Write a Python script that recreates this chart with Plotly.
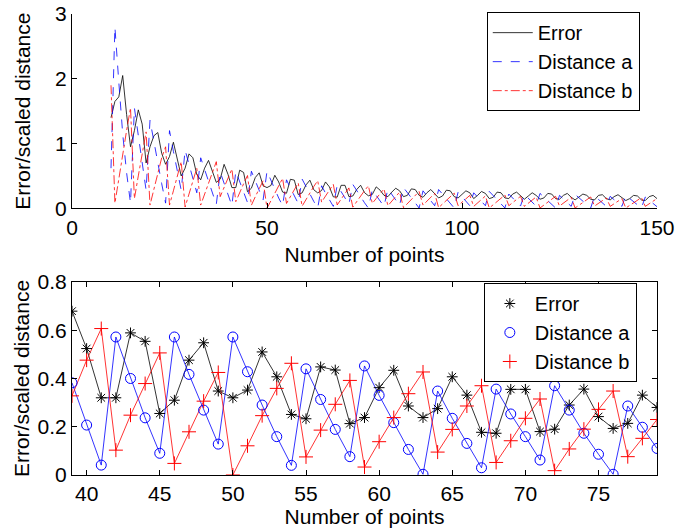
import plotly.graph_objects as go

# Number of points (x) for the full run
n_points = list(range(10, 151))

error = [
    1.4, 1.65, 1.72, 2.05, 1.45, 0.95, 1.2, 1.52, 1.3, 0.7,
    0.95, 1.12, 1.17, 0.85, 0.68, 0.8, 1.02, 0.75, 0.5, 0.62,
    0.84, 0.78, 0.52, 0.44, 0.62, 0.74, 0.56, 0.4, 0.45,
    0.679, 0.524, 0.32, 0.32, 0.589, 0.554, 0.255, 0.31, 0.476, 0.548,
    0.348, 0.32, 0.352, 0.51, 0.407, 0.251, 0.233, 0.448, 0.435, 0.213,
    0.238, 0.362, 0.434, 0.286, 0.238, 0.275, 0.407, 0.331, 0.177, 0.173,
    0.355, 0.355, 0.18, 0.19, 0.29, 0.356, 0.242, 0.193, 0.214, 0.331, 0.28,
    0.2, 0.18, 0.25, 0.31, 0.27, 0.18, 0.2, 0.3, 0.29, 0.2,
    0.17, 0.24, 0.29, 0.23, 0.16, 0.19, 0.28, 0.27, 0.18, 0.16,
    0.22, 0.27, 0.24, 0.15, 0.2, 0.26, 0.23, 0.15, 0.17, 0.25,
    0.24, 0.16, 0.15, 0.22, 0.25, 0.19, 0.14, 0.19, 0.24, 0.2,
    0.14, 0.16, 0.23, 0.22, 0.15, 0.14, 0.2, 0.23, 0.17, 0.13,
    0.17, 0.22, 0.2, 0.14, 0.13, 0.2, 0.21, 0.15, 0.13, 0.18,
    0.21, 0.17, 0.12, 0.15, 0.2, 0.19, 0.13, 0.12, 0.18, 0.2, 0.15,
]

distance_a = [
    0.62, 2.8, 1.95, 1.15, 0.55, 0.08, 1.55, 1.1, 0.68, 0.28,
    1.36, 1.02, 0.7, 0.38, 0.08, 1.2, 0.88, 0.58, 0.28, 0.9,
    0.68, 0.46, 0.24, 0.78, 0.6, 0.42, 0.24, 0.06, 0.56,
    0.382, 0.207, 0.041, 0.572, 0.40, 0.237, 0.09, 0.572, 0.417, 0.269,
    0.128, 0.572, 0.428, 0.29, 0.159, 0.04, 0.44, 0.313, 0.189, 0.076,
    0.452, 0.33, 0.217, 0.106, 0.003, 0.348, 0.235, 0.131, 0.03, 0.356,
    0.253, 0.159, 0.062, 0.37, 0.269, 0.173, 0.086, 0.003, 0.286, 0.198, 0.11,
    0.03, 0.3, 0.215, 0.13, 0.045, 0.32, 0.24, 0.16, 0.08, 0.005,
    0.27, 0.19, 0.115, 0.04, 0.29, 0.215, 0.145, 0.075, 0.005, 0.25,
    0.18, 0.11, 0.04, 0.24, 0.175, 0.105, 0.04, 0.26, 0.195, 0.13,
    0.07, 0.005, 0.22, 0.16, 0.095, 0.035, 0.215, 0.155, 0.095, 0.035,
    0.23, 0.175, 0.115, 0.06, 0.005, 0.2, 0.145, 0.09, 0.03, 0.215,
    0.16, 0.105, 0.055, 0.005, 0.19, 0.135, 0.085, 0.03, 0.185, 0.135,
    0.08, 0.03, 0.2, 0.15, 0.1, 0.05, 0.005, 0.175, 0.125, 0.075, 0.025,
]

distance_b = [
    1.9, 0.08, 0.45, 0.85, 1.2, 1.55, 0.15, 0.5, 0.85, 1.18,
    0.05, 0.3, 0.55, 0.78, 0.95, 0.05, 0.27, 0.5, 0.72, 0.02,
    0.22, 0.42, 0.62, 0.05, 0.22, 0.4, 0.57, 0.72, 0.18,
    0.328, 0.476, 0.607, 0.103, 0.248, 0.379, 0.506, 0.048, 0.179, 0.306,
    0.425, 0.0, 0.121, 0.246, 0.359, 0.463, 0.075, 0.186, 0.293, 0.392,
    0.033, 0.138, 0.238, 0.337, 0.427, 0.095, 0.189, 0.286, 0.37, 0.052,
    0.142, 0.235, 0.315, 0.018, 0.108, 0.19, 0.272, 0.348, 0.076, 0.152, 0.23,
    0.3, 0.04, 0.11, 0.18, 0.25, 0.01, 0.075, 0.14, 0.2, 0.26,
    0.05, 0.11, 0.17, 0.23, 0.01, 0.07, 0.125, 0.18, 0.235, 0.04,
    0.095, 0.15, 0.2, 0.03, 0.085, 0.14, 0.19, 0.005, 0.055, 0.105,
    0.155, 0.205, 0.04, 0.09, 0.14, 0.185, 0.03, 0.08, 0.13, 0.175,
    0.005, 0.05, 0.095, 0.14, 0.185, 0.035, 0.08, 0.125, 0.17, 0.005,
    0.05, 0.09, 0.13, 0.175, 0.035, 0.075, 0.115, 0.16, 0.03, 0.07,
    0.11, 0.15, 0.005, 0.045, 0.085, 0.125, 0.165, 0.03, 0.07, 0.11, 0.15,
]

series_names = ["Error", "Distance a", "Distance b"]
zoom_start, zoom_end = 39, 79

FONT = "Liberation Sans, Arial, sans-serif"
FS = 21
LFS = 20
BLACK, BLUE, RED = "#000000", "#0000ff", "#ff0000"

i0 = n_points.index(zoom_start)
i1 = n_points.index(zoom_end) + 1
n_zoom = n_points[i0:i1]

fig = go.Figure()

# ---- top panel: full run, line styles
top_styles = [(error, BLACK, "solid"), (distance_a, BLUE, "dash"), (distance_b, RED, "dashdot")]
for name, (vals, col, dash) in zip(series_names, top_styles):
    fig.add_trace(go.Scatter(
        x=n_points, y=vals, mode="lines", name=name,
        line=dict(color=col, width=0.8, dash=dash),
        xaxis="x", yaxis="y", legend="legend"))

# ---- bottom panel: zoomed window, markers joined by thin lines
bot_styles = [(error, BLACK, "asterisk-open", 9), (distance_a, BLUE, "circle-open", 10),
              (distance_b, RED, "cross-thin-open", 10)]
for name, (vals, col, sym, sz) in zip(series_names, bot_styles):
    fig.add_trace(go.Scatter(
        x=n_zoom, y=vals[i0:i1], mode="lines", showlegend=False,
        line=dict(color=col, width=0.8), xaxis="x2", yaxis="y2"))
for name, (vals, col, sym, sz) in zip(series_names, bot_styles):
    fig.add_trace(go.Scatter(
        x=n_zoom, y=vals[i0:i1], mode="markers", name=name,
        marker=dict(symbol=sym, size=sz, color=col, line=dict(color=col, width=1)),
        xaxis="x2", yaxis="y2", legend="legend2"))

axis_common = dict(
    showline=True, linecolor="black", linewidth=1, ticks="inside", ticklen=5,
    tickcolor="black", showgrid=False, zeroline=False, automargin=False,
    tickfont=dict(family=FONT, size=FS, color="black"),
)

fig.update_layout(
    width=678, height=532,
    margin=dict(l=72, r=21, t=14, b=57),
    paper_bgcolor="white", plot_bgcolor="white",
    font=dict(family=FONT, size=FS, color="black"),
    xaxis=dict(domain=[0, 1], anchor="y", range=[0, 150], tickvals=[0, 50, 100, 150],
               title=dict(text="Number of points", standoff=9, font=dict(size=FS)),
               **axis_common),
    yaxis=dict(domain=[0.5785, 1], anchor="x", range=[0, 3], tickvals=[0, 1, 2, 3],
               title=dict(text="Error/scaled distance", standoff=18, font=dict(size=FS)),
               **axis_common),
    xaxis2=dict(domain=[0, 1], anchor="y2", range=[39, 79], tickvals=[40, 45, 50, 55, 60, 65, 70, 75],
                mirror="ticks",
                title=dict(text="Number of points", standoff=0, font=dict(size=FS)),
                **axis_common),
    yaxis2=dict(domain=[0, 0.4187], anchor="x2", range=[0, 0.8],
                tickvals=[0, 0.2, 0.4, 0.6, 0.8], ticktext=["0", "0.2", "0.4", "0.6", "0.8"],
                mirror="ticks",
                title=dict(text="Error/scaled distance", standoff=2, font=dict(size=FS)),
                **axis_common),
    legend=dict(x=0.709, y=1.004, xanchor="left", yanchor="top",
                bgcolor="white", bordercolor="black", borderwidth=1, itemwidth=40,
                font=dict(family=FONT, size=LFS), tracegroupgap=0),
    legend2=dict(x=0.704, y=0.4165, xanchor="left", yanchor="top",
                 bgcolor="white", bordercolor="black", borderwidth=1, itemwidth=40,
                 font=dict(family=FONT, size=LFS), tracegroupgap=0),
)

fig.write_html("out.html", config={"displayModeBar": False},
               post_script="document.body.style.margin='0px';document.body.style.padding='0px';")
